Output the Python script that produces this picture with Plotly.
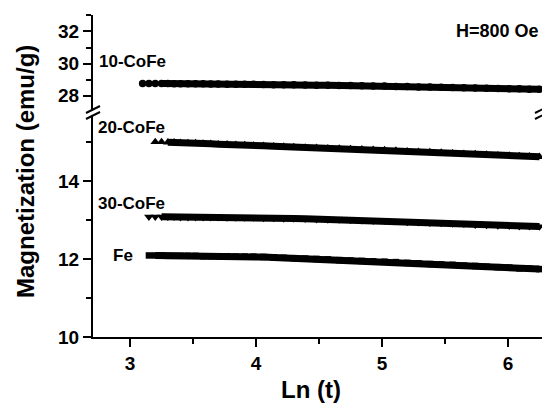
import plotly.graph_objects as go

# ---- data ----
ln_t = [3.10, 3.15, 3.20, 3.25, 3.30, 3.35, 3.40, 3.46, 3.52, 3.58, 3.64, 3.70,
        3.77, 3.84, 3.91, 3.98, 4.06, 4.14, 4.22, 4.30, 4.39, 4.48, 4.57, 4.66,
        4.75, 4.84, 4.93, 5.02, 5.11, 5.20, 5.29, 5.38, 5.47, 5.56, 5.65, 5.74,
        5.83, 5.92, 6.01, 6.09, 6.17, 6.25]

m_10cofe = [28.76, 28.76, 28.75, 28.75, 28.75, 28.74, 28.74, 28.74, 28.73, 28.73, 28.72, 28.72,
            28.71, 28.71, 28.70, 28.70, 28.69, 28.68, 28.68, 28.67, 28.66, 28.65, 28.64, 28.63,
            28.62, 28.61, 28.60, 28.59, 28.57, 28.56, 28.54, 28.53, 28.52, 28.50, 28.49, 28.47,
            28.46, 28.44, 28.43, 28.42, 28.40, 28.39]

m_20cofe = [None, None, 15.00, 15.00, 14.99, 14.99, 14.98, 14.97, 14.97, 14.96, 14.95, 14.94,
            14.94, 14.93, 14.92, 14.91, 14.90, 14.89, 14.88, 14.87, 14.86, 14.85, 14.84, 14.83,
            14.82, 14.81, 14.80, 14.79, 14.78, 14.76, 14.75, 14.74, 14.73, 14.71, 14.70, 14.69,
            14.68, 14.66, 14.65, 14.64, 14.63, 14.62]

m_30cofe = [None, 13.08, 13.08, 13.08, 13.08, 13.08, 13.07, 13.07, 13.07, 13.07, 13.07, 13.07,
            13.06, 13.06, 13.06, 13.06, 13.05, 13.05, 13.04, 13.04, 13.03, 13.02, 13.01, 13.01,
            13.00, 12.99, 12.98, 12.98, 12.97, 12.95, 12.94, 12.93, 12.92, 12.91, 12.90, 12.88,
            12.87, 12.86, 12.85, 12.84, 12.84, 12.83]

m_fe = [None, 12.09, 12.09, 12.09, 12.08, 12.08, 12.08, 12.08, 12.08, 12.07, 12.07, 12.07,
        12.07, 12.06, 12.06, 12.06, 12.05, 12.04, 12.03, 12.02, 12.01, 12.00, 11.99, 11.97,
        11.96, 11.95, 11.94, 11.93, 11.92, 11.90, 11.89, 11.87, 11.86, 11.85, 11.83, 11.82,
        11.80, 11.79, 11.78, 11.76, 11.75, 11.74]

series = [
    ("10-CoFe", m_10cofe, "circle", 7.5, "y2", 3),
    ("20-CoFe", m_20cofe, "triangle-up", 8.5, "y", 4),
    ("30-CoFe", m_30cofe, "triangle-down", 8.5, "y", 3),
    ("Fe", m_fe, "square", 6.5, "y", 2),
]

FONT = "Liberation Sans, Arial, sans-serif"
W, H = 542, 406
L, R, T, B = 93, 0, 15, 69
PW, PH = W - L - R, H - T - B


def px(xp):
    return (xp - L) / PW


def py(yp):
    return (H - B - yp) / PH


fig = go.Figure()
for name, ys, sym, size, yax, k in series:
    fig.add_trace(go.Scatter(x=ln_t[k:], y=ys[k:], mode="lines", yaxis=yax,
                             line=dict(color="black", width=7), showlegend=False,
                             hoverinfo="skip"))
    fig.add_trace(go.Scatter(x=ln_t, y=ys, mode="markers", yaxis=yax, name=name,
                             marker=dict(symbol=sym, size=size, color="black",
                                         line=dict(width=0)),
                             showlegend=False))

tickfont = dict(family=FONT, size=19, color="black", weight="bold")
axis_common = dict(showline=True, linewidth=2, linecolor="black", ticks="outside",
                   ticklen=8, tickwidth=2, tickcolor="black", showgrid=False,
                   zeroline=False, tickfont=tickfont)

fig.update_layout(
    width=W, height=H, margin=dict(l=L, r=R, t=T, b=B),
    paper_bgcolor="white", plot_bgcolor="white",
    xaxis=dict(**axis_common, domain=[0, 1], range=[2.706, 6.27], anchor="y",
               tick0=0, dtick=1,
               minor=dict(dtick=0.5, ticklen=5, tickwidth=2, tickcolor="black", ticks="outside")),
    xaxis2=dict(showline=True, linewidth=2, linecolor="black", ticks="outside",
                ticklen=3, tickwidth=2, tickcolor="black", showgrid=False, zeroline=False,
                showticklabels=False, side="top", anchor="y2", range=[2.706, 6.27],
                tick0=0, dtick=0.5),
    yaxis=dict(**axis_common, domain=[0, py(115)], range=[10, 15.69], anchor="x",
               tick0=10, dtick=2,
               minor=dict(dtick=1, ticklen=5, tickwidth=2, tickcolor="black", ticks="outside")),
    yaxis2=dict(**axis_common, domain=[py(109), 1], range=[27.16, 33.03], anchor="x",
                tick0=28, dtick=2,
                minor=dict(dtick=1, ticklen=5, tickwidth=2, tickcolor="black", ticks="outside")),
)

lab = dict(family=FONT, size=17, color="black", weight="bold")
anns = [
    dict(text="10-CoFe", x=2.74, y=30.1, xref="x", yref="y2", xanchor="left", yanchor="middle"),
    dict(text="20-CoFe", x=2.73, y=15.37, xref="x", yref="y", xanchor="left", yanchor="middle"),
    dict(text="30-CoFe", x=2.73, y=13.41, xref="x", yref="y", xanchor="left", yanchor="middle"),
    dict(text="Fe", x=2.846, y=12.08, xref="x", yref="y", xanchor="left", yanchor="middle"),
    dict(text="H=800 Oe", x=px(541), y=32.0, xref="paper", yref="y2", xanchor="right",
         yanchor="middle", font=dict(family=FONT, size=18, color="black", weight="bold")),
    dict(text="Ln (t)", x=px(311), y=py(389), xref="paper", yref="paper", xanchor="center",
         yanchor="middle", font=dict(family=FONT, size=24, color="black", weight="bold")),
    dict(text="Magnetization (emu/g)", x=px(25), y=py(172), xref="paper", yref="paper",
         xanchor="center", yanchor="middle", textangle=-90,
         font=dict(family=FONT, size=24, color="black", weight="bold")),
]
for a in anns:
    a.setdefault("font", lab)
    a["showarrow"] = False
    fig.add_annotation(**a)

# axis break marks
for (x0, y0, x1, y1) in [(86, 113, 100, 106), (86, 119, 100, 112),
                         (535, 113, 549, 106), (535, 119, 549, 112)]:
    fig.add_shape(type="line", xref="paper", yref="paper", x0=px(x0), y0=py(y0),
                  x1=px(x1), y1=py(y1), line=dict(color="black", width=2))

fig.write_html("out.html")
